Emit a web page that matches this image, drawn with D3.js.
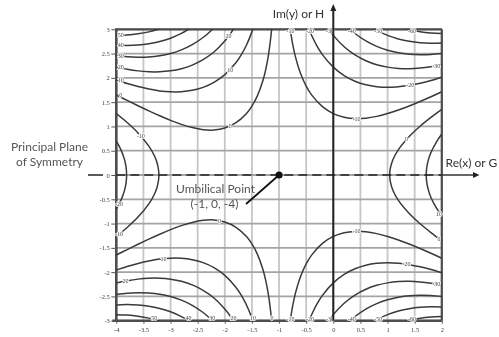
<!DOCTYPE html>
<html>
<head>
<meta charset="utf-8">
<script src="https://cdn.jsdelivr.net/npm/d3@7"></script>
<style>
  html, body { margin: 0; padding: 0; background: #fff; }
  svg { display: block; }
  .labels { opacity: 0.999; will-change: transform; }
</style>
</head>
<body>
<script>
// Axis ticks
const xTicks = [-4, -3.5, -3, -2.5, -2, -1.5, -1, -0.5, 0, 0.5, 1, 1.5, 2];
const yTicks = [3, 2.5, 2, 1.5, 1, 0.5, 0, -0.5, -1, -1.5, -2, -2.5, -3];

// Contour lines of the surface, one family per sector around the umbilical point
const upperLeft = [
  {level: 0,  pts: [[-4,1.647],[-3.8,1.535],[-3.6,1.426],[-3.4,1.320],[-3.2,1.219],[-3.0,1.125],[-2.8,1.043],[-2.6,0.976],[-2.4,0.934],[-2.2,0.926],[-2.0,0.966],[-1.8,1.071],[-1.6,1.268],[-1.5,1.420],[-1.4,1.629],[-1.3,1.934],[-1.25,2.150],[-1.2,2.439],[-1.15,2.857],[-1.13,3.087]]},
  {level: 10, pts: [[-4,1.955],[-3.8,1.883],[-3.6,1.821],[-3.4,1.770],[-3.2,1.732],[-3.0,1.713],[-2.8,1.714],[-2.6,1.743],[-2.4,1.804],[-2.2,1.907],[-2.0,2.066],[-1.8,2.305],[-1.7,2.469],[-1.6,2.677],[-1.5,2.947],[-1.46,3.079]]},
  {level: 20, pts: [[-4,2.221],[-3.8,2.177],[-3.6,2.144],[-3.4,2.126],[-3.2,2.125],[-3.0,2.145],[-2.8,2.189],[-2.6,2.263],[-2.4,2.374],[-2.2,2.532],[-2.0,2.757],[-1.9,2.903],[-1.8,3.079]]},
  {level: 30, pts: [[-4,2.459],[-3.8,2.435],[-3.6,2.425],[-3.4,2.431],[-3.2,2.456],[-3.0,2.503],[-2.8,2.577],[-2.6,2.684],[-2.4,2.831],[-2.3,2.924],[-2.2,3.032]]},
  {level: 40, pts: [[-4,2.675],[-3.8,2.668],[-3.6,2.676],[-3.4,2.701],[-3.2,2.747],[-3.0,2.817],[-2.8,2.915],[-2.7,2.976],[-2.6,3.047]]},
  {level: 50, pts: [[-4,2.875],[-3.8,2.883],[-3.6,2.906],[-3.4,2.947],[-3.2,3.010]]}
];

const lowerLeft = [
  {level: 0,  pts: [[-4,-1.647],[-3.8,-1.535],[-3.6,-1.426],[-3.4,-1.320],[-3.2,-1.219],[-3.0,-1.125],[-2.8,-1.043],[-2.6,-0.976],[-2.4,-0.934],[-2.2,-0.926],[-2.0,-0.966],[-1.8,-1.071],[-1.6,-1.268],[-1.5,-1.420],[-1.4,-1.629],[-1.3,-1.934],[-1.25,-2.150],[-1.2,-2.439],[-1.15,-2.857],[-1.13,-3.087]]},
  {level: 10, pts: [[-4,-1.955],[-3.8,-1.883],[-3.6,-1.821],[-3.4,-1.770],[-3.2,-1.732],[-3.0,-1.713],[-2.8,-1.714],[-2.6,-1.743],[-2.4,-1.804],[-2.2,-1.907],[-2.0,-2.066],[-1.8,-2.305],[-1.7,-2.469],[-1.6,-2.677],[-1.5,-2.947],[-1.46,-3.079]]},
  {level: 20, pts: [[-4,-2.221],[-3.8,-2.177],[-3.6,-2.144],[-3.4,-2.126],[-3.2,-2.125],[-3.0,-2.145],[-2.8,-2.189],[-2.6,-2.263],[-2.4,-2.374],[-2.2,-2.532],[-2.0,-2.757],[-1.9,-2.903],[-1.8,-3.079]]},
  {level: 30, pts: [[-4,-2.459],[-3.8,-2.435],[-3.6,-2.425],[-3.4,-2.431],[-3.2,-2.456],[-3.0,-2.503],[-2.8,-2.577],[-2.6,-2.684],[-2.4,-2.831],[-2.3,-2.924],[-2.2,-3.032]]},
  {level: 40, pts: [[-4,-2.675],[-3.8,-2.668],[-3.6,-2.676],[-3.4,-2.701],[-3.2,-2.747],[-3.0,-2.817],[-2.8,-2.915],[-2.7,-2.976],[-2.6,-3.047]]},
  {level: 50, pts: [[-4,-2.875],[-3.8,-2.883],[-3.6,-2.906],[-3.4,-2.947],[-3.2,-3.010]]}
];

const upperRight = [
  {level: -10, pts: [[-0.8,3.046],[-0.75,2.700],[-0.7,2.442],[-0.6,2.078],[-0.5,1.830],[-0.4,1.649],[-0.2,1.407],[0,1.265],[0.2,1.189],[0.4,1.161],[0.6,1.170],[0.8,1.207],[1.0,1.265],[1.2,1.338],[1.4,1.421],[1.6,1.513],[1.8,1.611],[2.0,1.713]]},
  {level: -20, pts: [[-0.5,3.165],[-0.45,3.011],[-0.4,2.877],[-0.3,2.655],[-0.2,2.479],[0,2.221],[0.2,2.047],[0.4,1.931],[0.6,1.858],[0.8,1.819],[1.0,1.807],[1.2,1.818],[1.4,1.846],[1.6,1.890],[1.8,1.945],[2.0,2.011]]},
  {level: -30, pts: [[-0.15,3.115],[-0.1,3.028],[0,2.875],[0.2,2.640],[0.4,2.472],[0.6,2.353],[0.8,2.272],[1.0,2.221],[1.2,2.195],[1.4,2.190],[1.6,2.203],[1.8,2.231],[2.0,2.271]]},
  {level: -40, pts: [[0.25,3.064],[0.3,3.010],[0.4,2.914],[0.6,2.760],[0.8,2.648],[1.0,2.569],[1.2,2.517],[1.4,2.487],[1.6,2.477],[1.8,2.483],[2.0,2.503]]},
  {level: -50, pts: [[0.7,3.041],[0.75,3.008],[0.8,2.977],[1.0,2.875],[1.2,2.802],[1.4,2.752],[1.6,2.723],[1.8,2.712],[2.0,2.716]]},
  {level: -60, pts: [[1.2,3.060],[1.3,3.024],[1.4,2.994],[1.6,2.949],[1.8,2.924],[2.0,2.914]]}
];

const lowerRight = [
  {level: -10, pts: [[-0.8,-3.046],[-0.75,-2.700],[-0.7,-2.442],[-0.6,-2.078],[-0.5,-1.830],[-0.4,-1.649],[-0.2,-1.407],[0,-1.265],[0.2,-1.189],[0.4,-1.161],[0.6,-1.170],[0.8,-1.207],[1.0,-1.265],[1.2,-1.338],[1.4,-1.421],[1.6,-1.513],[1.8,-1.611],[2.0,-1.713]]},
  {level: -20, pts: [[-0.5,-3.165],[-0.45,-3.011],[-0.4,-2.877],[-0.3,-2.655],[-0.2,-2.479],[0,-2.221],[0.2,-2.047],[0.4,-1.931],[0.6,-1.858],[0.8,-1.819],[1.0,-1.807],[1.2,-1.818],[1.4,-1.846],[1.6,-1.890],[1.8,-1.945],[2.0,-2.011]]},
  {level: -30, pts: [[-0.15,-3.115],[-0.1,-3.028],[0,-2.875],[0.2,-2.640],[0.4,-2.472],[0.6,-2.353],[0.8,-2.272],[1.0,-2.221],[1.2,-2.195],[1.4,-2.190],[1.6,-2.203],[1.8,-2.231],[2.0,-2.271]]},
  {level: -40, pts: [[0.25,-3.064],[0.3,-3.010],[0.4,-2.914],[0.6,-2.760],[0.8,-2.648],[1.0,-2.569],[1.2,-2.517],[1.4,-2.487],[1.6,-2.477],[1.8,-2.483],[2.0,-2.503]]},
  {level: -50, pts: [[0.7,-3.041],[0.75,-3.008],[0.8,-2.977],[1.0,-2.875],[1.2,-2.802],[1.4,-2.752],[1.6,-2.723],[1.8,-2.712],[2.0,-2.716]]},
  {level: -60, pts: [[1.2,-3.060],[1.3,-3.024],[1.4,-2.994],[1.6,-2.949],[1.8,-2.924],[2.0,-2.914]]}
];

// Contours crossing the principal plane (y = 0)
const leftSector = [
  {level: -10, pts: [[-4,1.265],[-3.8,1.080],[-3.6,0.866],[-3.4,0.594],[-3.3,0.401],[-3.25,0.256],[-3.22,0.0925],[-3.2155,0],[-3.22,-0.0925],[-3.25,-0.256],[-3.3,-0.401],[-3.4,-0.594],[-3.6,-0.866],[-3.8,-1.080],[-4,-1.265]]},
  {level: -20, pts: [[-4,0.699],[-3.95,0.600],[-3.9,0.481],[-3.85,0.321],[-3.82,0.162],[-3.81,0],[-3.82,-0.162],[-3.85,-0.321],[-3.9,-0.481],[-3.95,-0.600],[-4,-0.699]]}
];

const rightSector = [
  {level: 0,  pts: [[2.0,1.350],[1.8,1.185],[1.6,1.004],[1.4,0.794],[1.2,0.523],[1.1,0.319],[1.05,0.131],[1.04,0],[1.05,-0.131],[1.1,-0.319],[1.2,-0.523],[1.4,-0.794],[1.6,-1.004],[1.8,-1.185],[2.0,-1.350]]},
  {level: 10, pts: [[2.0,0.843],[1.9,0.679],[1.8,0.462],[1.75,0.301],[1.72,0.131],[1.713,0],[1.72,-0.131],[1.75,-0.301],[1.8,-0.462],[1.9,-0.679],[2.0,-0.843]]}
];

// Inline contour labels: [x, y, text]
const contourLabels = [
  [-3.92,2.875,"50"],[-3.92,2.675,"40"],[-3.92,2.459,"30"],[-3.92,2.221,"20"],[-3.92,1.955,"10"],[-3.92,1.647,"0"],
  [-1.93,2.856,"20"],[-1.9,2.173,"10"],[-1.9,1.009,"0"],
  [-3.55,0.806,"-10"],[-3.95,-1.22,"-10"],[-3.95,-0.60,"-20"],
  [-2.1,-0.939,"0"],[-3.13,-1.72,"10"],[-3.83,-2.18,"20"],
  [-1.13,-2.95,"0"],[-1.48,-2.95,"10"],[-1.84,-2.95,"20"],[-2.23,-2.95,"30"],[-2.67,-2.95,"40"],[-3.3,-2.95,"50"],
  [0.43,1.161,"-10"],[1.42,1.846,"-20"],[1.9,2.25,"-30"],
  [-0.79,2.96,"-10"],[-0.43,2.96,"-20"],[-0.06,2.96,"-30"],[0.34,2.96,"-40"],[0.83,2.96,"-50"],[1.45,2.96,"-60"],
  [0.43,-1.161,"-10"],[1.35,-1.84,"-20"],[1.9,-2.25,"-30"],
  [-0.79,-2.96,"-10"],[-0.43,-2.96,"-20"],[-0.06,-2.96,"-30"],[0.34,-2.96,"-40"],[0.83,-2.96,"-50"],[1.45,-2.96,"-60"],
  [1.35,0.735,"0"],[1.95,-1.31,"0"],[1.95,-0.80,"10"]
];

// Umbilical point (x, y, z)
const umbilic = [-1, 0, -4];

const W = 499, H = 337;
const x = d3.scaleLinear().domain([-4, 2]).range([116.3, 441.8]);
const y = d3.scaleLinear().domain([-3, 3]).range([320.7, 29.3]);

const svg = d3.select("body").append("svg")
  .attr("width", W).attr("height", H)
  .style("font-family", "Lato, 'Open Sans', sans-serif");

svg.append("rect").attr("width", W).attr("height", H).attr("fill", "#fff");

svg.append("clipPath").attr("id", "plotClip")
  .append("rect")
  .attr("x", x(-4)).attr("y", y(3))
  .attr("width", x(2) - x(-4)).attr("height", y(-3) - y(3));

// Grid
const grid = svg.append("g");
grid.selectAll("line.v").data(xTicks).join("line")
  .attr("x1", d => x(d)).attr("x2", d => x(d))
  .attr("y1", y(3)).attr("y2", y(-3))
  .attr("stroke", "#c6c6c6").attr("stroke-width", 1.8);
grid.selectAll("line.h").data(yTicks).join("line")
  .attr("x1", x(-4)).attr("x2", x(2))
  .attr("y1", d => y(d)).attr("y2", d => y(d))
  .attr("stroke", "#a4a4a4").attr("stroke-width", 1.8);

// Frame
const frame = svg.append("g").attr("stroke", "#4e4e4e").attr("fill", "none");
frame.append("line").attr("x1", x(-4)).attr("x2", x(-4)).attr("y1", y(3) - 1).attr("y2", y(-3) + 1).attr("stroke-width", 2.6);
frame.append("line").attr("x1", x(-4) - 4).attr("x2", x(2)).attr("y1", y(-3)).attr("y2", y(-3)).attr("stroke-width", 2.6);
frame.append("line").attr("x1", x(-4)).attr("x2", x(2)).attr("y1", y(3)).attr("y2", y(3)).attr("stroke-width", 2.2);
frame.append("line").attr("x1", x(2)).attr("x2", x(2)).attr("y1", y(3)).attr("y2", y(-3)).attr("stroke-width", 2.2);

// Axis ticks and labels
const yAxis = d3.axisLeft(y).tickValues(yTicks).tickSize(5).tickPadding(1.5).tickFormat(d => String(d));
const gy = svg.append("g").attr("class", "labels").attr("transform", `translate(${x(-4)},0)`).call(yAxis);
gy.select(".domain").remove();
gy.selectAll(".tick line").attr("stroke", "#555").attr("stroke-width", 1);
gy.selectAll(".tick text").attr("fill", "#444")
  .style("font-family", "'Liberation Serif', serif").style("font-size", "6.5px");

const xAxis = d3.axisBottom(x).tickValues(xTicks).tickSize(3).tickPadding(4).tickFormat(d => String(d));
const gx = svg.append("g").attr("class", "labels").attr("transform", `translate(0,${y(-3)})`).call(xAxis);
gx.select(".domain").remove();
gx.selectAll(".tick line").attr("stroke", "#555").attr("stroke-width", 1);
gx.selectAll(".tick text").attr("fill", "#444")
  .style("font-family", "'Liberation Serif', serif").style("font-size", "6.5px");

// Contours
const line = d3.line()
  .x(d => x(d[0])).y(d => y(d[1]))
  .curve(d3.curveCatmullRom.alpha(0.5));

const allContours = [].concat(upperLeft, lowerLeft, upperRight, lowerRight, leftSector, rightSector);
svg.append("g").attr("clip-path", "url(#plotClip)")
  .selectAll("path").data(allContours).join("path")
  .attr("d", d => line(d.pts))
  .attr("fill", "none")
  .attr("stroke", "#3a3a3a")
  .attr("stroke-width", 1.5)
  .attr("stroke-linejoin", "round");

// Contour labels
svg.append("g").attr("class", "labels").selectAll("text").data(contourLabels).join("text")
  .attr("x", d => x(d[0])).attr("y", d => y(d[1]))
  .attr("dy", "0.35em")
  .attr("text-anchor", "middle")
  .attr("fill", "#444")
  .attr("stroke", "#fff").attr("stroke-width", 1.6).attr("paint-order", "stroke")
  .style("font-family", "'Liberation Serif', serif")
  .style("font-size", "6px")
  .text(d => d[2]);

// Horizontal axis: Re(x) or G
svg.append("line")
  .attr("x1", x(-4)).attr("x2", x(2)).attr("y1", y(0)).attr("y2", y(0))
  .attr("stroke", "#222").attr("stroke-width", 1.6)
  .attr("stroke-dasharray", "9,5");
svg.append("line")
  .attr("x1", 88).attr("x2", 103).attr("y1", y(0)).attr("y2", y(0))
  .attr("stroke", "#333").attr("stroke-width", 1.6);
svg.append("line")
  .attr("x1", x(2)).attr("x2", 474).attr("y1", y(0)).attr("y2", y(0))
  .attr("stroke", "#333").attr("stroke-width", 1.6);
svg.append("path")
  .attr("d", `M479.5,${y(0)} L473,${y(0) - 3} L473,${y(0) + 3} Z`)
  .attr("fill", "#222");

// Vertical axis: Im(y) or H
svg.append("line")
  .attr("x1", x(0)).attr("x2", x(0)).attr("y1", y(-3)).attr("y2", 10)
  .attr("stroke", "#222").attr("stroke-width", 2);
svg.append("path")
  .attr("d", `M${x(0)},4 L${x(0) - 3},11 L${x(0) + 3},11 Z`)
  .attr("fill", "#222");

// Titles and callout text
const titles = svg.append("g").attr("class", "labels");
titles.append("text").attr("x", 298.5).attr("y", 18).attr("text-anchor", "middle")
  .attr("fill", "#333").style("font-size", "12px").text("Im(y) or H");
titles.append("text").attr("x", 445.5).attr("y", 166.5)
  .attr("fill", "#333").style("font-size", "12px").text("Re(x) or G");

titles.append("text").attr("x", 49.5).attr("y", 151).attr("text-anchor", "middle")
  .attr("fill", "#555").style("font-size", "12px").text("Principal Plane");
titles.append("text").attr("x", 49.5).attr("y", 166).attr("text-anchor", "middle")
  .attr("fill", "#555").style("font-size", "12px").text("of Symmetry");

// Umbilical point and its callout
const ux = x(umbilic[0]), uy = y(umbilic[1]);
svg.append("line")
  .attr("x1", ux - 33).attr("y1", uy + 29).attr("x2", ux).attr("y2", uy)
  .attr("stroke", "#111").attr("stroke-width", 1.8);
svg.append("circle").attr("cx", ux).attr("cy", uy).attr("r", 3.6).attr("fill", "#111");
titles.append("text").attr("x", 215.5).attr("y", 193.3).attr("text-anchor", "middle")
  .attr("fill", "#555").style("font-size", "12px").text("Umbilical Point");
titles.append("text").attr("x", 214.5).attr("y", 207.5).attr("text-anchor", "middle")
  .attr("fill", "#555").style("font-size", "12px")
  .text(`(${umbilic[0]}, ${umbilic[1]}, ${umbilic[2]})`);
</script>
</body>
</html>
